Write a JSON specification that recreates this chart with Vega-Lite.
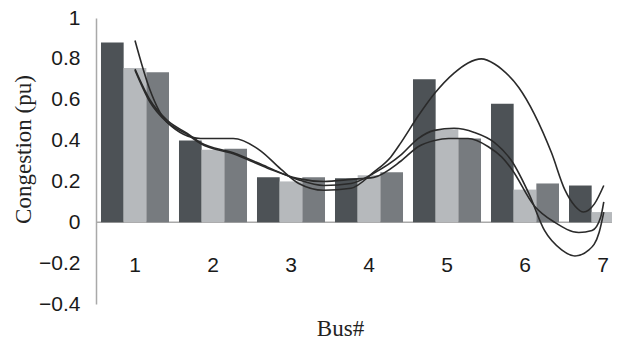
{
  "$schema": "https://vega.github.io/schema/vega-lite/v6.json",
  "autosize": {"type": "none"},
  "width": 516,
  "height": 286,
  "padding": {"left": 96, "top": 18, "right": 6, "bottom": 35},
  "background": "white",
  "config": {"view": {"stroke": null}},
  "datasets": {
    "bars": [
      {"bus": 1, "series": "S1", "value": 0.88},
      {"bus": 1, "series": "S2", "value": 0.755},
      {"bus": 1, "series": "S3", "value": 0.735},
      {"bus": 2, "series": "S1", "value": 0.40},
      {"bus": 2, "series": "S2", "value": 0.355},
      {"bus": 2, "series": "S3", "value": 0.36},
      {"bus": 3, "series": "S1", "value": 0.22},
      {"bus": 3, "series": "S2", "value": 0.20},
      {"bus": 3, "series": "S3", "value": 0.22},
      {"bus": 4, "series": "S1", "value": 0.215},
      {"bus": 4, "series": "S2", "value": 0.23},
      {"bus": 4, "series": "S3", "value": 0.245},
      {"bus": 5, "series": "S1", "value": 0.70},
      {"bus": 5, "series": "S2", "value": 0.455},
      {"bus": 5, "series": "S3", "value": 0.41},
      {"bus": 6, "series": "S1", "value": 0.58},
      {"bus": 6, "series": "S2", "value": 0.16},
      {"bus": 6, "series": "S3", "value": 0.19},
      {"bus": 7, "series": "S1", "value": 0.18},
      {"bus": 7, "series": "S2", "value": 0.05},
      {"bus": 7, "series": "S3", "value": 0.10}
    ],
    "curves": [
      {"curve": "C1", "x": 1.00, "y": 0.89},
      {"curve": "C1", "x": 1.19, "y": 0.65},
      {"curve": "C1", "x": 1.41, "y": 0.49},
      {"curve": "C1", "x": 1.84, "y": 0.41},
      {"curve": "C1", "x": 2.26, "y": 0.41},
      {"curve": "C1", "x": 2.61, "y": 0.35},
      {"curve": "C1", "x": 2.87, "y": 0.26},
      {"curve": "C1", "x": 3.10, "y": 0.19},
      {"curve": "C1", "x": 3.42, "y": 0.157},
      {"curve": "C1", "x": 3.77, "y": 0.167},
      {"curve": "C1", "x": 4.06, "y": 0.245},
      {"curve": "C1", "x": 4.28, "y": 0.32},
      {"curve": "C1", "x": 4.41, "y": 0.39},
      {"curve": "C1", "x": 4.63, "y": 0.52},
      {"curve": "C1", "x": 4.84, "y": 0.63},
      {"curve": "C1", "x": 5.09, "y": 0.73},
      {"curve": "C1", "x": 5.27, "y": 0.78},
      {"curve": "C1", "x": 5.44, "y": 0.80},
      {"curve": "C1", "x": 5.61, "y": 0.775},
      {"curve": "C1", "x": 5.70, "y": 0.75},
      {"curve": "C1", "x": 5.92, "y": 0.66},
      {"curve": "C1", "x": 6.12, "y": 0.53},
      {"curve": "C1", "x": 6.34, "y": 0.34},
      {"curve": "C1", "x": 6.51, "y": 0.16},
      {"curve": "C1", "x": 6.64, "y": 0.08},
      {"curve": "C1", "x": 6.75, "y": 0.05},
      {"curve": "C1", "x": 6.89, "y": 0.09},
      {"curve": "C1", "x": 7.01, "y": 0.18},
      {"curve": "C2", "x": 1.00, "y": 0.75},
      {"curve": "C2", "x": 1.19, "y": 0.60},
      {"curve": "C2", "x": 1.41, "y": 0.50},
      {"curve": "C2", "x": 1.67, "y": 0.435},
      {"curve": "C2", "x": 1.84, "y": 0.39},
      {"curve": "C2", "x": 2.26, "y": 0.34},
      {"curve": "C2", "x": 2.70, "y": 0.27},
      {"curve": "C2", "x": 3.08, "y": 0.21},
      {"curve": "C2", "x": 3.42, "y": 0.18},
      {"curve": "C2", "x": 3.77, "y": 0.19},
      {"curve": "C2", "x": 4.06, "y": 0.24},
      {"curve": "C2", "x": 4.41, "y": 0.33},
      {"curve": "C2", "x": 4.63, "y": 0.41},
      {"curve": "C2", "x": 4.84, "y": 0.45},
      {"curve": "C2", "x": 5.09, "y": 0.46},
      {"curve": "C2", "x": 5.35, "y": 0.44},
      {"curve": "C2", "x": 5.61, "y": 0.39},
      {"curve": "C2", "x": 5.83, "y": 0.30},
      {"curve": "C2", "x": 6.05, "y": 0.14},
      {"curve": "C2", "x": 6.25, "y": -0.04},
      {"curve": "C2", "x": 6.47, "y": -0.135},
      {"curve": "C2", "x": 6.64, "y": -0.165},
      {"curve": "C2", "x": 6.82, "y": -0.135},
      {"curve": "C2", "x": 6.95, "y": -0.05},
      {"curve": "C2", "x": 7.01, "y": 0.05},
      {"curve": "C3", "x": 1.00, "y": 0.745},
      {"curve": "C3", "x": 1.19, "y": 0.59},
      {"curve": "C3", "x": 1.41, "y": 0.49},
      {"curve": "C3", "x": 1.67, "y": 0.43},
      {"curve": "C3", "x": 1.84, "y": 0.385},
      {"curve": "C3", "x": 2.26, "y": 0.335},
      {"curve": "C3", "x": 2.70, "y": 0.265},
      {"curve": "C3", "x": 3.08, "y": 0.215},
      {"curve": "C3", "x": 3.42, "y": 0.20},
      {"curve": "C3", "x": 3.77, "y": 0.21},
      {"curve": "C3", "x": 4.06, "y": 0.22},
      {"curve": "C3", "x": 4.41, "y": 0.30},
      {"curve": "C3", "x": 4.63, "y": 0.37},
      {"curve": "C3", "x": 4.84, "y": 0.40},
      {"curve": "C3", "x": 5.02, "y": 0.41},
      {"curve": "C3", "x": 5.27, "y": 0.41},
      {"curve": "C3", "x": 5.53, "y": 0.37},
      {"curve": "C3", "x": 5.70, "y": 0.32},
      {"curve": "C3", "x": 5.83, "y": 0.26},
      {"curve": "C3", "x": 6.12, "y": 0.08},
      {"curve": "C3", "x": 6.38, "y": 0.0},
      {"curve": "C3", "x": 6.69, "y": -0.05},
      {"curve": "C3", "x": 6.86, "y": -0.04},
      {"curve": "C3", "x": 6.97, "y": 0.025},
      {"curve": "C3", "x": 7.01, "y": 0.10}
    ]
  },
  "layer": [
    {
      "data": {"values": [{}]},
      "mark": {"type": "rule", "color": "#a9a9a9", "strokeWidth": 1.5},
      "encoding": {"y": {"datum": 0, "type": "quantitative"}}
    },
    {
      "data": {"name": "bars"},
      "mark": {"type": "bar", "clip": true},
      "encoding": {
        "x": {
          "field": "bus",
          "type": "ordinal",
          "scale": {"range": [0, 546], "paddingInner": 0.128, "paddingOuter": 0.064},
          "axis": {
            "title": "Bus#",
            "titleFont": "Liberation Serif",
            "titleFontWeight": "normal",
            "titleFontSize": 23,
            "titleColor": "#222222",
            "titleX": 244,
            "titleY": 24,
            "titleBaseline": "middle",
            "domain": false,
            "ticks": false,
            "grid": false,
            "labelAngle": 0,
            "labelFont": "Liberation Sans",
            "labelFontSize": 21,
            "labelColor": "#1a1a1a",
            "labelPadding": -50,
            "labelBaseline": "top"
          }
        },
        "xOffset": {"field": "series", "type": "nominal", "scale": {"paddingInner": 0, "paddingOuter": 0}},
        "y": {
          "field": "value",
          "type": "quantitative",
          "scale": {"domain": [-0.4, 1], "nice": false, "zero": false},
          "axis": {
            "title": "Congestion (pu)",
            "titleFont": "Liberation Serif",
            "titleFontWeight": "normal",
            "titleFontSize": 23,
            "titleColor": "#222222",
            "titleAngle": -90,
            "titleX": -73,
            "titleY": 131,
            "titleAlign": "center",
            "titleBaseline": "middle",
            "values": [-0.4, -0.2, 0, 0.2, 0.4, 0.6, 0.8, 1],
            "format": "~g",
            "domain": true,
            "domainColor": "#a9a9a9",
            "domainWidth": 1.5,
            "ticks": false,
            "grid": false,
            "labelFont": "Liberation Sans",
            "labelFontSize": 21,
            "labelColor": "#1a1a1a",
            "labelPadding": 16
          }
        },
        "color": {
          "field": "series",
          "type": "nominal",
          "scale": {"domain": ["S1", "S2", "S3"], "range": ["#4d5256", "#b6b9bc", "#777b7f"]},
          "legend": null
        }
      }
    },
    {
      "data": {"name": "curves"},
      "mark": {"type": "line", "interpolate": "monotone", "color": "#2a2a2a", "strokeWidth": 1.6, "clip": true},
      "encoding": {
        "x": {"field": "x", "type": "quantitative", "scale": {"domain": [0.5, 7.5], "range": [0, 546], "nice": false, "zero": false}, "axis": null},
        "y": {"field": "y", "type": "quantitative"},
        "detail": {"field": "curve", "type": "nominal"}
      }
    }
  ],
  "resolve": {"scale": {"x": "independent"}}
}
